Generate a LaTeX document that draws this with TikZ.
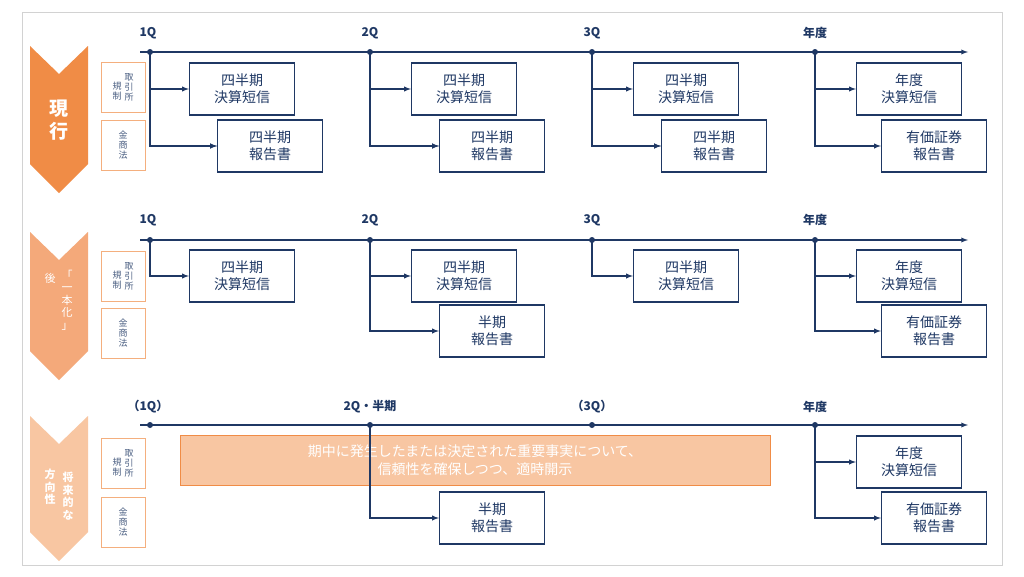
\documentclass[tikz,border=0pt]{standalone}
\usepackage{fontspec}
\setmainfont{Noto Sans CJK JP}
\begin{document}
\begin{tikzpicture}[x=1pt,y=-1pt,
  navy/.style={draw=nv,line width=1.3pt},
  bx/.style={draw=nv,line width=1.2pt,fill=white,minimum width=105pt,minimum height=52pt,align=center,font=\fontsize{14}{17}\selectfont,text=nv,inner sep=0pt},
  lb/.style={draw=or!70,line width=0.8pt,minimum width=44pt,minimum height=50pt},
  vt/.style={align=center,font=\fontsize{9}{10}\selectfont,text=nv!80,inner sep=0pt},
  ql/.style={font=\bfseries\fontsize{12}{14}\selectfont,text=nv},
  dot/.style={circle,fill=nv,inner sep=0pt,minimum size=6pt}]
\definecolor{nv}{HTML}{1F3864}
\definecolor{or}{HTML}{F08C46}
\definecolor{c1}{HTML}{F08C46}
\definecolor{c2}{HTML}{F4A97A}
\definecolor{c3}{HTML}{F8C6A2}
\useasboundingbox (0,0) rectangle (1024,576);
\fill[white] (0,0) rectangle (1024,576);
\draw[gray!35,line width=0.8pt] (22,12) rectangle (1002,565);
% chevrons
\newcommand{\chev}[4]{\fill[#4] (30,#1) -- (59,#2) -- (88,#1) -- (88,#3-29) -- (59,#3) -- (30,#3-29) -- cycle;}
\chev{46}{74}{193}{c1}
\chev{232}{260}{380}{c2}
\chev{416}{444}{561}{c3}
\node[text=white,font=\bfseries\fontsize{19}{23}\selectfont,align=center] (h1) at (59,120) {現\\行};
\node[text=white,font=\fontsize{11}{12.5}\selectfont,align=center] (h2a) at (67,300) {「\\一\\本\\化\\」};
\node[text=white,font=\fontsize{11}{12.5}\selectfont,align=center] (h2b) at (50,278) {後};
\node[text=white,font=\bfseries\fontsize{11}{12.5}\selectfont,align=center] (h3a) at (68,496) {将\\来\\的\\な};
\node[text=white,font=\bfseries\fontsize{11}{12.5}\selectfont,align=center] (h3b) at (50,487) {方\\向\\性};
% left label boxes
\foreach \y/\n in {87/a,145/b,276/c,333/d,463/e,522/f}{\node[lb] (L\n) at (123,\y) {};}
\foreach \n in {a,c,e}{
  \node[vt] at ([xshift=6pt]L\n.center) {取\\引\\所};
  \node[vt] at ([xshift=-6pt,yshift=-4pt]L\n.center) {規\\制};}
\foreach \n in {b,d,f}{\node[vt] at (L\n.center) {金\\商\\法};}
% timelines
\foreach \y/\r in {52/1,240/2,425/3}{
  \coordinate (s\r) at (140,\y); \coordinate (e\r) at (968,\y);
  \draw[navy,-latex] (s\r) -- (e\r);
  \foreach \x/\k in {150/a,370/b,592/c,815/d}{\node[dot] (d\r\k) at (\x,\y) {};}}
\foreach \x/\t in {148/1Q,370/2Q,592/3Q,815/年度}{\node[ql] at (\x,33) {\t};\node[ql] at (\x,220) {\t};}
\node[ql] at (148,407) {（1Q）};
\node[ql] at (370,407) {2Q・半期};
\node[ql] at (592,407) {（3Q）};
\node[ql] at (815,407) {年度};
% row 1 boxes
\foreach \dx/\k in {0/a,222/b,444/c}{
  \node[bx] (t1\k) at (242+\dx,89) {四半期\\決算短信};
  \node[bx] (b1\k) at (270+\dx,146) {四半期\\報告書};
  \draw[navy] (d1\k.center) |- (b1\k.west) [-latex];
  \draw[navy,-latex] (d1\k.center) |- (b1\k.west);
  \draw[navy,-latex] (d1\k.center |- t1\k.west) -- (t1\k.west);}
\node[bx] (t1d) at (909,89) {年度\\決算短信};
\node[bx] (b1d) at (934,146) {有価証券\\報告書};
\draw[navy,-latex] (d1d.center) |- (b1d.west);
\draw[navy,-latex] (d1d.center |- t1d.west) -- (t1d.west);
% row 2
\node[bx] (t2a) at (242,276) {四半期\\決算短信};
\draw[navy,-latex] (d2a.center) |- (t2a.west);
\node[bx] (t2b) at (464,276) {四半期\\決算短信};
\node[bx] (b2b) at (492,331) {半期\\報告書};
\draw[navy,-latex] (d2b.center) |- (b2b.west);
\draw[navy,-latex] (d2b.center |- t2b.west) -- (t2b.west);
\node[bx] (t2c) at (686,276) {四半期\\決算短信};
\draw[navy,-latex] (d2c.center) |- (t2c.west);
\node[bx] (t2d) at (909,276) {年度\\決算短信};
\node[bx] (b2d) at (934,331) {有価証券\\報告書};
\draw[navy,-latex] (d2d.center) |- (b2d.west);
\draw[navy,-latex] (d2d.center |- t2d.west) -- (t2d.west);
% row 3
\node[draw=or,line width=1pt,fill=c3,minimum width=590pt,minimum height=50pt,align=center,text=white,font=\fontsize{14}{18}\selectfont] (big) at (475,460) {期中に発生したまたは決定された重要事実について、\\信頼性を確保しつつ、適時開示};
\node[bx] (b3b) at (492,518) {半期\\報告書};
\draw[navy,-latex] (d3b.center) |- (b3b.west);
\node[bx] (t3d) at (909,462) {年度\\決算短信};
\node[bx] (b3d) at (934,518) {有価証券\\報告書};
\draw[navy,-latex] (d3d.center) |- (b3d.west);
\draw[navy,-latex] (d3d.center |- t3d.west) -- (t3d.west);
\end{tikzpicture}
\end{document}
